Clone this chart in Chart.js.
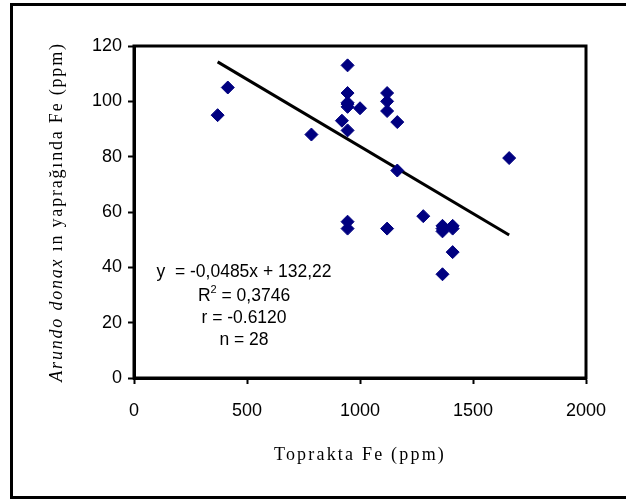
<!DOCTYPE html>
<html>
<head>
<meta charset="utf-8">
<script src="https://cdn.jsdelivr.net/npm/chart.js@4"></script>
<style>
  html, body { margin: 0; padding: 0; background: #fff; }
  #wrap { width: 626px; height: 501px; position: relative; }
</style>
</head>
<body>
<div id="wrap"><canvas id="chart1"></canvas></div>
<script>
// soil Fe (x) vs leaf Fe (y)
const soilFe = [370, 415, 785, 920, 945, 945, 945, 945, 945, 945, 945, 945, 1000, 1120,
    1120, 1120, 1120, 1165, 1165, 1280, 1365, 1365, 1365, 1365, 1410, 1410, 1410, 1660];
const leafFe = [95, 105, 88, 93, 113, 103, 99.5, 99, 98, 89.5, 56.5, 54, 97.5, 103,
    100, 96.5, 54, 92.5, 75, 58.5, 55, 54, 53, 37.5, 55, 54, 45.5, 79.5];

// regression shown on the chart
const slope = -0.0485;
const intercept = 132.22;
const trendX = [370, 1660];

const xTicks = [0, 500, 1000, 1500, 2000];
const yTicks = [0, 20, 40, 60, 80, 100, 120];

const eqLine = "y  = -0,0485x + 132,22";
const r2Value = " = 0,3746";
const rLine = "r = -0.6120";
const nLine = "n = 28";
const xTitle = "Toprakta Fe (ppm)";
const yTitleItalic = "Arundo donax";
const yTitleRest = " ın yaprağında Fe (ppm)";

const points = soilFe.map((x, i) => ({ x, y: leafFe[i] }));
const trend = trendX.map((x) => ({ x, y: slope * x + intercept }));

const sans = "'Liberation Sans', Arial, sans-serif";
const serif = "'Liberation Serif', 'Times New Roman', serif";

const decor = {
    id: "decor",
    afterDraw(chart) {
        const { ctx, chartArea: a } = chart;
        ctx.save();
        ctx.strokeStyle = "#000";
        ctx.lineWidth = 3;
        // outer frame (right side runs off the picture)
        ctx.strokeRect(11.5, 4.5, 640, 493);
        // plot box
        ctx.strokeRect(a.left, a.top, a.right - a.left, a.bottom - a.top);

        ctx.fillStyle = "#000";
        // stats text
        const cx = 244;
        ctx.font = "17.5px " + sans;
        ctx.textAlign = "center";
        ctx.textBaseline = "middle";
        ctx.fillText(eqLine, cx, 272);
        // R² with a real superscript
        const wR = ctx.measureText("R").width;
        const wV = ctx.measureText(r2Value).width;
        ctx.font = "11px " + sans;
        const w2 = ctx.measureText("2").width;
        let sx = cx - (wR + w2 + wV) / 2;
        ctx.textAlign = "left";
        ctx.font = "17.5px " + sans;
        ctx.fillText("R", sx, 296);
        ctx.font = "11px " + sans;
        ctx.fillText("2", sx + wR, 290);
        ctx.font = "17.5px " + sans;
        ctx.fillText(r2Value, sx + wR + w2, 296);
        ctx.textAlign = "center";
        ctx.fillText(rLine, cx, 318);
        ctx.fillText(nLine, cx, 340);

        // x title
        ctx.font = "18px " + serif;
        ctx.letterSpacing = "2.2px";
        ctx.fillText(xTitle, (a.left + a.right) / 2, 455);

        // y title, mixed italic / upright
        ctx.letterSpacing = "1.8px";
        ctx.translate(57, (a.top + a.bottom) / 2);
        ctx.rotate(-Math.PI / 2);
        ctx.textAlign = "left";
        const fItal = "italic 18px " + serif;
        const fNorm = "18px " + serif;
        ctx.font = fItal;
        const w1 = ctx.measureText(yTitleItalic).width;
        ctx.font = fNorm;
        const w3 = ctx.measureText(yTitleRest).width;
        const x0 = -(w1 + w3) / 2;
        ctx.font = fItal;
        ctx.fillText(yTitleItalic, x0, 0);
        ctx.font = fNorm;
        ctx.fillText(yTitleRest, x0 + w1, 0);
        ctx.restore();
    },
};

const axisFont = { family: sans, size: 18 };

new Chart(document.getElementById("chart1"), {
    type: "scatter",
    data: {
        datasets: [
            {
                data: points,
                pointStyle: "rectRot",
                pointRadius: 6.5,
                pointBackgroundColor: "#000080",
                pointBorderColor: "#000080",
                pointBorderWidth: 1,
            },
            {
                data: trend,
                showLine: true,
                borderColor: "#000",
                borderWidth: 3,
                pointRadius: 0,
            },
        ],
    },
    options: {
        responsive: true,
        maintainAspectRatio: false,
        animation: false,
        events: [],
        layout: { padding: { left: 0, right: 40, top: 46, bottom: 0 } },
        plugins: { legend: { display: false }, tooltip: { enabled: false } },
        scales: {
            x: {
                type: "linear",
                min: 0,
                max: 2000,
                afterBuildTicks: (s) => { s.ticks = xTicks.map((v) => ({ value: v })); },
                afterFit: (s) => { s.height = 123; },
                grid: { drawOnChartArea: false, tickLength: 6, tickColor: "#000", tickWidth: 2 },
                border: { color: "#000", width: 3 },
                ticks: { color: "#000", font: axisFont, padding: 16, maxRotation: 0, callback: (v) => String(v) },
            },
            y: {
                type: "linear",
                min: 0,
                max: 120,
                afterBuildTicks: (s) => { s.ticks = yTicks.map((v) => ({ value: v })); },
                afterFit: (s) => { s.width = 134; },
                grid: { drawOnChartArea: false, tickLength: 6, tickColor: "#000", tickWidth: 2 },
                border: { color: "#000", width: 3 },
                ticks: { color: "#000", font: axisFont, padding: 6, callback: (v) => String(v) },
            },
        },
    },
    plugins: [decor],
});
</script>
</body>
</html>
